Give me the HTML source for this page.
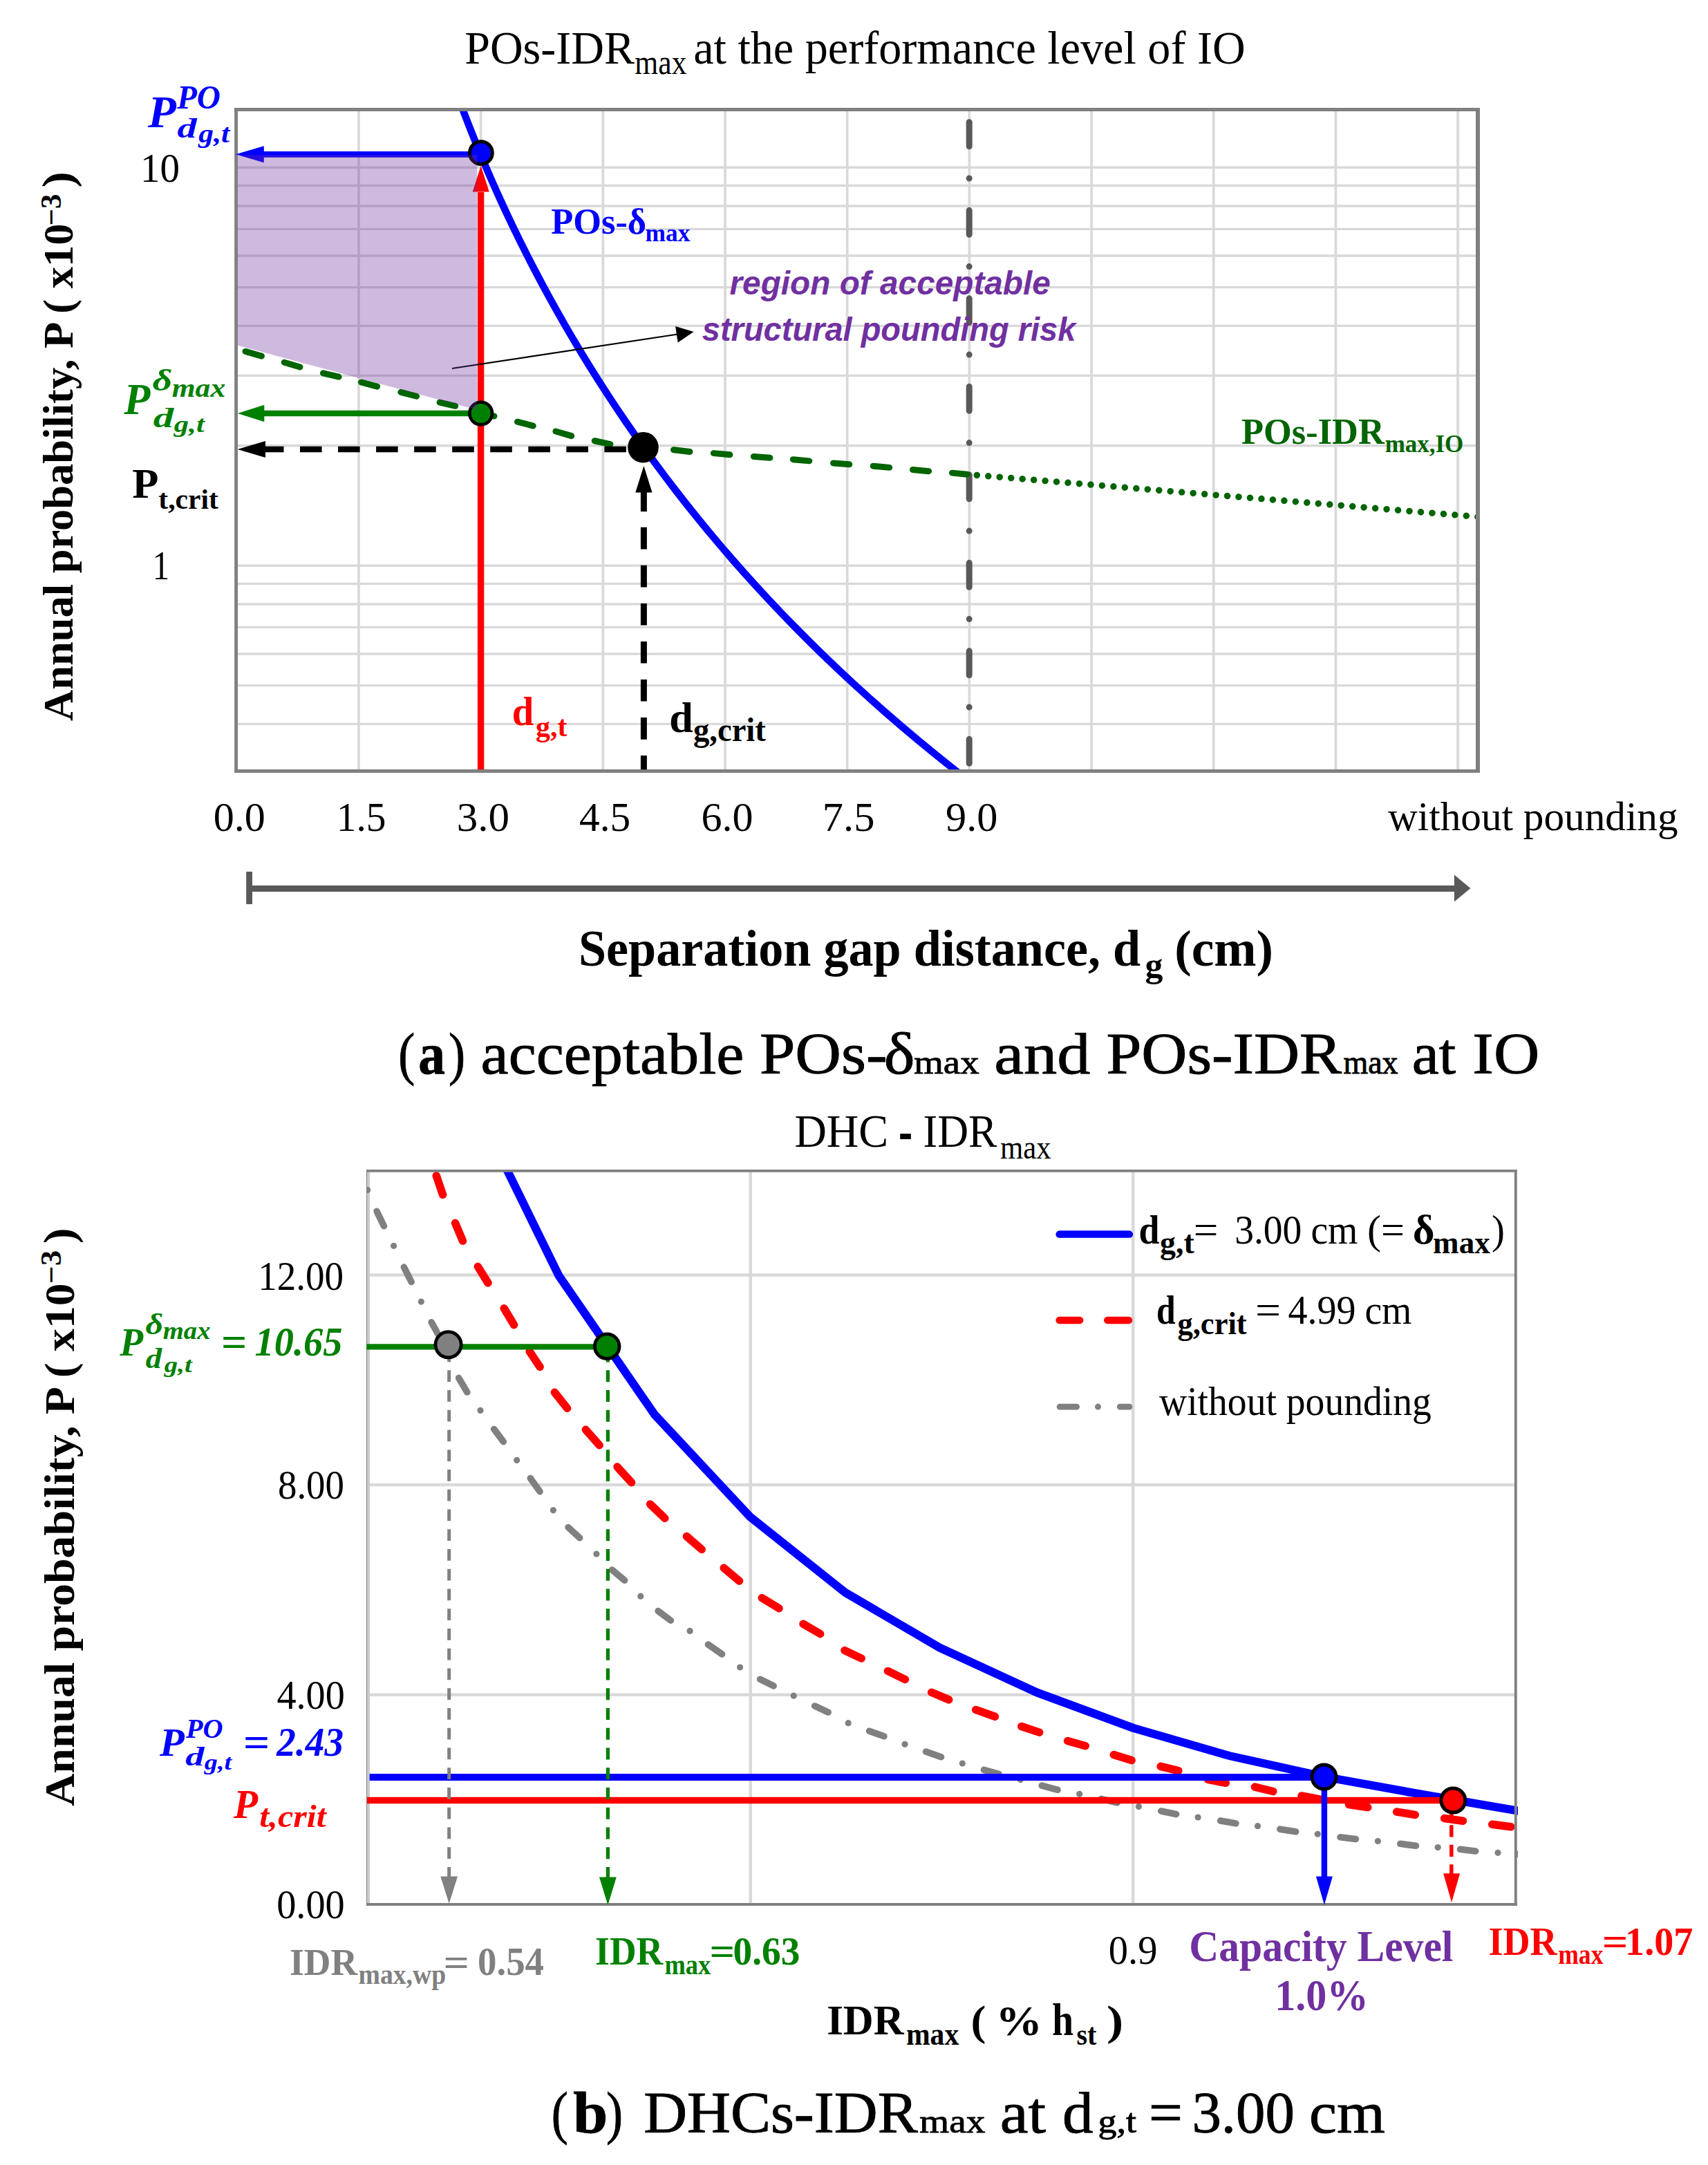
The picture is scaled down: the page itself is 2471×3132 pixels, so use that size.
<!DOCTYPE html>
<html lang="en"><head><meta charset="utf-8"><title>Figure: POs-IDRmax and DHC-IDRmax</title>
<style>html,body{margin:0;padding:0;background:#fff}svg{display:block}</style></head>
<body><svg width="2471" height="3132" viewBox="0 0 2471 3132">
<rect x="0" y="0" width="2471" height="3132" fill="#ffffff"/>
<g id="chart-a">
<line x1="518.98" y1="158.70" x2="518.98" y2="1115.80" stroke="#d9d9d9" stroke-width="3.7"/>
<line x1="695.66" y1="158.70" x2="695.66" y2="1115.80" stroke="#d9d9d9" stroke-width="3.7"/>
<line x1="872.34" y1="158.70" x2="872.34" y2="1115.80" stroke="#d9d9d9" stroke-width="3.7"/>
<line x1="1049.02" y1="158.70" x2="1049.02" y2="1115.80" stroke="#d9d9d9" stroke-width="3.7"/>
<line x1="1225.70" y1="158.70" x2="1225.70" y2="1115.80" stroke="#d9d9d9" stroke-width="3.7"/>
<line x1="1402.38" y1="158.70" x2="1402.38" y2="1115.80" stroke="#d9d9d9" stroke-width="3.7"/>
<line x1="1579.06" y1="158.70" x2="1579.06" y2="1115.80" stroke="#d9d9d9" stroke-width="3.7"/>
<line x1="1755.74" y1="158.70" x2="1755.74" y2="1115.80" stroke="#d9d9d9" stroke-width="3.7"/>
<line x1="1932.42" y1="158.70" x2="1932.42" y2="1115.80" stroke="#d9d9d9" stroke-width="3.7"/>
<line x1="2109.10" y1="158.70" x2="2109.10" y2="1115.80" stroke="#d9d9d9" stroke-width="3.7"/>
<line x1="341.50" y1="242.20" x2="2138.00" y2="242.20" stroke="#d9d9d9" stroke-width="3.4"/>
<line x1="341.50" y1="268.56" x2="2138.00" y2="268.56" stroke="#d9d9d9" stroke-width="3.4"/>
<line x1="341.50" y1="298.02" x2="2138.00" y2="298.02" stroke="#d9d9d9" stroke-width="3.4"/>
<line x1="341.50" y1="331.42" x2="2138.00" y2="331.42" stroke="#d9d9d9" stroke-width="3.4"/>
<line x1="341.50" y1="369.98" x2="2138.00" y2="369.98" stroke="#d9d9d9" stroke-width="3.4"/>
<line x1="341.50" y1="415.59" x2="2138.00" y2="415.59" stroke="#d9d9d9" stroke-width="3.4"/>
<line x1="341.50" y1="471.41" x2="2138.00" y2="471.41" stroke="#d9d9d9" stroke-width="3.4"/>
<line x1="341.50" y1="543.38" x2="2138.00" y2="543.38" stroke="#d9d9d9" stroke-width="3.4"/>
<line x1="341.50" y1="644.81" x2="2138.00" y2="644.81" stroke="#d9d9d9" stroke-width="3.4"/>
<line x1="341.50" y1="818.20" x2="2138.00" y2="818.20" stroke="#d9d9d9" stroke-width="3.4"/>
<line x1="341.50" y1="844.56" x2="2138.00" y2="844.56" stroke="#d9d9d9" stroke-width="3.4"/>
<line x1="341.50" y1="874.02" x2="2138.00" y2="874.02" stroke="#d9d9d9" stroke-width="3.4"/>
<line x1="341.50" y1="907.42" x2="2138.00" y2="907.42" stroke="#d9d9d9" stroke-width="3.4"/>
<line x1="341.50" y1="945.98" x2="2138.00" y2="945.98" stroke="#d9d9d9" stroke-width="3.4"/>
<line x1="341.50" y1="991.59" x2="2138.00" y2="991.59" stroke="#d9d9d9" stroke-width="3.4"/>
<line x1="341.50" y1="1047.41" x2="2138.00" y2="1047.41" stroke="#d9d9d9" stroke-width="3.4"/>
<path d="M1402.2,176.8V1113" fill="none" stroke="#595959" stroke-width="9" stroke-linecap="round" stroke-dasharray="35 46.25 0.01 46.25"/>
<clipPath id="clipA"><rect x="341.5" y="158.7" width="1796.5" height="957.0999999999999"/></clipPath>
<g clip-path="url(#clipA)">
<path d="M354.96,508.42L378.44,515.18M411.25,524.25L433.95,530.95M467.50,539.86L490.10,545.24M522.57,552.96L545.63,559.14M579.88,567.34L602.52,573.26M636.10,582.05L658.70,587.35M692.37,595.96L715.03,602.04M748.48,610.22L771.22,616.08M803.95,624.03L826.75,630.67M860.22,637.76L882.88,642.54M916.49,646.75L938.91,648.25M974.48,650.73L998.02,653.47M1032.38,655.63L1055.92,657.77M1090.39,660.49L1113.91,662.31M1147.28,664.73L1170.82,666.87M1205.59,669.99L1228.81,671.81M1263.18,674.23L1286.72,676.37M1320.48,679.54L1343.62,681.66M1377.48,684.14L1399.12,686.16" fill="none" stroke="#006400" stroke-width="9" stroke-linecap="round"/>
<path d="M1413.3,687.4L2140.8,747.85" fill="none" stroke="#006400" stroke-width="9.5" stroke-linecap="round" stroke-dasharray="0.01 16.513"/>
<path d="M666.35,150.00 C667.61,153.33 671.35,163.33 673.91,170.00 C676.47,176.67 679.07,183.33 681.71,190.00 C684.35,196.67 687.03,203.33 689.75,210.00 C692.47,216.67 695.23,223.33 698.03,230.00 C700.83,236.67 703.67,243.33 706.56,250.00 C709.44,256.67 712.36,263.33 715.33,270.00 C718.29,276.67 721.30,283.33 724.35,290.00 C727.39,296.67 730.48,303.33 733.61,310.00 C736.74,316.67 739.92,323.33 743.13,330.00 C746.35,336.67 749.61,343.33 752.91,350.00 C756.21,356.67 759.56,363.33 762.94,370.00 C766.33,376.67 769.77,383.33 773.24,390.00 C776.72,396.67 780.24,403.33 783.81,410.00 C787.37,416.67 790.98,423.33 794.64,430.00 C798.30,436.67 802.00,443.33 805.75,450.00 C809.50,456.67 813.30,463.33 817.14,470.00 C820.99,476.67 824.88,483.33 828.82,490.00 C832.76,496.67 836.75,503.33 840.79,510.00 C844.83,516.67 848.92,523.33 853.06,530.00 C857.20,536.67 861.39,543.33 865.63,550.00 C869.87,556.67 874.16,563.33 878.51,570.00 C882.85,576.67 887.25,583.33 891.71,590.00 C896.16,596.67 900.67,603.33 905.23,610.00 C909.79,616.67 914.41,623.33 919.08,630.00 C923.76,636.67 928.49,643.33 933.28,650.00 C938.07,656.67 942.91,663.33 947.82,670.00 C952.73,676.67 957.69,683.33 962.72,690.00 C967.75,696.67 972.83,703.33 977.99,710.00 C983.14,716.67 988.35,723.33 993.63,730.00 C998.90,736.67 1004.24,743.33 1009.65,750.00 C1015.06,756.67 1020.53,763.33 1026.07,770.00 C1031.61,776.67 1037.21,783.33 1042.89,790.00 C1048.57,796.67 1054.31,803.33 1060.13,810.00 C1065.94,816.67 1071.83,823.33 1077.79,830.00 C1083.75,836.67 1089.78,843.33 1095.89,850.00 C1101.99,856.67 1108.17,863.33 1114.43,870.00 C1120.69,876.67 1127.02,883.33 1133.44,890.00 C1139.85,896.67 1146.34,903.33 1152.92,910.00 C1159.49,916.67 1166.14,923.33 1172.88,930.00 C1179.61,936.67 1186.43,943.33 1193.34,950.00 C1200.24,956.67 1207.23,963.33 1214.30,970.00 C1221.38,976.67 1228.54,983.33 1235.80,990.00 C1243.05,996.67 1250.39,1003.33 1257.82,1010.00 C1265.26,1016.67 1272.78,1023.33 1280.40,1030.00 C1288.02,1036.67 1295.74,1043.33 1303.55,1050.00 C1311.36,1056.67 1319.26,1063.33 1327.27,1070.00 C1335.28,1076.67 1343.38,1083.33 1351.59,1090.00 C1359.80,1096.67 1368.10,1103.33 1376.52,1110.00 C1384.93,1116.67 1397.81,1126.67 1402.07,1130.00" fill="none" stroke="#0000ff" stroke-width="10.4"/>
</g>
<line x1="341.60" y1="156.05" x2="341.60" y2="1118.00" stroke="#808080" stroke-width="4.9"/>
<line x1="2138.00" y1="156.05" x2="2138.00" y2="1118.00" stroke="#808080" stroke-width="6"/>
<line x1="339.15" y1="158.50" x2="2141.00" y2="158.50" stroke="#808080" stroke-width="4.9"/>
<line x1="339.15" y1="1115.55" x2="2141.00" y2="1115.55" stroke="#808080" stroke-width="4.9"/>
<line x1="695.60" y1="1113.30" x2="695.60" y2="278.00" stroke="#ff0000" stroke-width="9.4"/>
<polygon points="695.70,240.00 683.65,277.60 707.75,277.60" fill="#ff0000"/>
<line x1="696.00" y1="223.40" x2="381.00" y2="223.40" stroke="#0000ff" stroke-width="8.8"/>
<polygon points="340.90,223.20 381.80,211.20 381.80,235.20" fill="#0000ff"/>
<line x1="696.00" y1="598.00" x2="381.50" y2="598.00" stroke="#008000" stroke-width="8.6"/>
<polygon points="343.70,598.00 382.30,585.70 382.30,610.30" fill="#008000"/>
<path d="M383.00,650.00L410.50,650.00M434.00,650.00L465.60,650.00M489.05,650.00L520.65,650.00M544.10,650.00L575.70,650.00M599.15,650.00L630.75,650.00M654.20,650.00L685.80,650.00M709.25,650.00L740.85,650.00M764.30,650.00L795.90,650.00M819.35,650.00L850.95,650.00M874.40,650.00L906.00,650.00" fill="none" stroke="#000" stroke-width="8.7" stroke-linecap="butt"/>
<polygon points="343.70,650.00 384.00,638.00 384.00,662.00" fill="#000"/>
<path d="M931.40,712.00L931.40,740.00M931.40,762.80L931.40,794.40M931.40,817.85L931.40,849.45M931.40,872.90L931.40,904.50M931.40,927.95L931.40,959.55M931.40,983.00L931.40,1014.60M931.40,1038.05L931.40,1069.65M931.40,1093.10L931.40,1113.30" fill="none" stroke="#000" stroke-width="9" stroke-linecap="butt"/>
<polygon points="931.40,673.90 919.30,712.50 943.50,712.50" fill="#000"/>
<line x1="654.00" y1="533.00" x2="983.83" y2="483.00" stroke="#000" stroke-width="2.2"/>
<polygon points="1003.60,480.00 980.65,495.41 977.11,472.08" fill="#000"/>
<circle cx="695.90" cy="221.20" r="16.45" fill="#0000ff" stroke="#000" stroke-width="4.9"/>
<circle cx="695.70" cy="598.00" r="16.30" fill="#008000" stroke="#000" stroke-width="4.6"/>
<circle cx="930.50" cy="647.20" r="22.30" fill="#000"/>
<polygon points="344.00,224.20 690.20,224.20 690.20,593.00 344.00,499.70" fill="#7030a0" fill-opacity="0.335"/>
<line x1="360.60" y1="1261.00" x2="360.60" y2="1308.00" stroke="#595959" stroke-width="8.8"/>
<line x1="360.60" y1="1285.50" x2="2106.00" y2="1285.50" stroke="#595959" stroke-width="9.2"/>
<polygon points="2127.40,1285.00 2103.90,1265.60 2103.90,1304.40" fill="#595959"/>
</g>
<g id="text-a">
<text x="672.15" y="91.50" font-family='"Liberation Serif", serif' font-size="67" font-weight="normal" font-style="normal" fill="#000" textLength="245.96" lengthAdjust="spacingAndGlyphs">POs-IDR</text>
<text x="918.33" y="106.60" font-family='"Liberation Serif", serif' font-size="50" font-weight="normal" font-style="normal" fill="#000" textLength="75.27" lengthAdjust="spacingAndGlyphs">max</text>
<text x="1003.18" y="91.50" font-family='"Liberation Serif", serif' font-size="67" font-weight="normal" font-style="normal" fill="#000" textLength="798.58" lengthAdjust="spacingAndGlyphs">at the performance level of IO</text>
<text transform="translate(105.40,1042.50) rotate(-90)" x="-0.50" y="0" font-family='"Liberation Serif", serif' font-size="62" font-weight="bold" font-style="normal" fill="#000" textLength="719.48" lengthAdjust="spacingAndGlyphs">Annual probability, P ( x10</text>
<text transform="translate(87.90,324.10) rotate(-90)" x="-2.22" y="0" font-family='"Liberation Serif", serif' font-size="42" font-weight="bold" font-style="normal" fill="#000" textLength="45.77" lengthAdjust="spacingAndGlyphs">−3</text>
<text transform="translate(105.40,269.30) rotate(-90)" x="-2.24" y="0" font-family='"Liberation Serif", serif' font-size="64" font-weight="bold" font-style="normal" fill="#000" textLength="23.31" lengthAdjust="spacingAndGlyphs">)</text>
<text x="202.98" y="263.30" font-family='"Liberation Serif", serif' font-size="59" font-weight="normal" font-style="normal" fill="#000" textLength="57.08" lengthAdjust="spacingAndGlyphs">10</text>
<text x="220.62" y="838.20" font-family='"Liberation Serif", serif' font-size="59" font-weight="normal" font-style="normal" fill="#000" textLength="24.86" lengthAdjust="spacingAndGlyphs">1</text>
<text x="308.73" y="1202.30" font-family='"Liberation Serif", serif' font-size="60" font-weight="normal" font-style="normal" fill="#000" textLength="75.21" lengthAdjust="spacingAndGlyphs">0.0</text>
<text x="486.75" y="1202.30" font-family='"Liberation Serif", serif' font-size="60" font-weight="normal" font-style="normal" fill="#000" textLength="71.70" lengthAdjust="spacingAndGlyphs">1.5</text>
<text x="660.67" y="1202.30" font-family='"Liberation Serif", serif' font-size="60" font-weight="normal" font-style="normal" fill="#000" textLength="76.31" lengthAdjust="spacingAndGlyphs">3.0</text>
<text x="838.01" y="1202.30" font-family='"Liberation Serif", serif' font-size="60" font-weight="normal" font-style="normal" fill="#000" textLength="74.21" lengthAdjust="spacingAndGlyphs">4.5</text>
<text x="1014.60" y="1202.30" font-family='"Liberation Serif", serif' font-size="60" font-weight="normal" font-style="normal" fill="#000" textLength="75.04" lengthAdjust="spacingAndGlyphs">6.0</text>
<text x="1189.83" y="1202.30" font-family='"Liberation Serif", serif' font-size="60" font-weight="normal" font-style="normal" fill="#000" textLength="75.52" lengthAdjust="spacingAndGlyphs">7.5</text>
<text x="1368.07" y="1202.30" font-family='"Liberation Serif", serif' font-size="60" font-weight="normal" font-style="normal" fill="#000" textLength="75.38" lengthAdjust="spacingAndGlyphs">9.0</text>
<text x="2008.00" y="1201.30" font-family='"Liberation Serif", serif' font-size="60" font-weight="normal" font-style="normal" fill="#000" textLength="419.61" lengthAdjust="spacingAndGlyphs">without pounding</text>
<text x="214.00" y="184.00" font-family='"Liberation Serif", serif' font-size="65" font-weight="bold" font-style="italic" fill="#0000ff" textLength="40.89" lengthAdjust="spacingAndGlyphs">P</text>
<text x="256.00" y="157.00" font-family='"Liberation Serif", serif' font-size="48" font-weight="bold" font-style="italic" fill="#0000ff" textLength="62.88" lengthAdjust="spacingAndGlyphs">PO</text>
<text x="256.63" y="199.00" font-family='"Liberation Serif", serif' font-size="39" font-weight="bold" font-style="italic" fill="#0000ff" textLength="28.10" lengthAdjust="spacingAndGlyphs">d</text>
<text x="287.37" y="206.00" font-family='"Liberation Serif", serif' font-size="37" font-weight="bold" font-style="italic" fill="#0000ff" textLength="44.90" lengthAdjust="spacingAndGlyphs">g,t</text>
<text x="179.30" y="598.80" font-family='"Liberation Serif", serif' font-size="64" font-weight="bold" font-style="italic" fill="#008000" textLength="38.13" lengthAdjust="spacingAndGlyphs">P</text>
<text x="220.60" y="565.40" font-family='"Liberation Serif", serif' font-size="45" font-weight="bold" font-style="italic" fill="#008000" textLength="28.78" lengthAdjust="spacingAndGlyphs">δ</text>
<text x="248.73" y="574.20" font-family='"Liberation Serif", serif' font-size="38" font-weight="bold" font-style="italic" fill="#008000" textLength="77.50" lengthAdjust="spacingAndGlyphs">max</text>
<text x="221.79" y="618.10" font-family='"Liberation Serif", serif' font-size="39" font-weight="bold" font-style="italic" fill="#008000" textLength="29.50" lengthAdjust="spacingAndGlyphs">d</text>
<text x="251.86" y="625.10" font-family='"Liberation Serif", serif' font-size="34" font-weight="bold" font-style="italic" fill="#008000" textLength="43.94" lengthAdjust="spacingAndGlyphs">g,t</text>
<text x="191.30" y="720.00" font-family='"Liberation Serif", serif' font-size="61" font-weight="bold" font-style="normal" fill="#000" textLength="38.18" lengthAdjust="spacingAndGlyphs">P</text>
<text x="229.34" y="735.80" font-family='"Liberation Serif", serif' font-size="40" font-weight="bold" font-style="normal" fill="#000" textLength="86.50" lengthAdjust="spacingAndGlyphs">t,crit</text>
<text x="797.16" y="337.80" font-family='"Liberation Serif", serif' font-size="53.6" font-weight="bold" font-style="normal" fill="#0000ff" textLength="137.92" lengthAdjust="spacingAndGlyphs">POs-δ</text>
<text x="933.55" y="349.00" font-family='"Liberation Serif", serif' font-size="36" font-weight="bold" font-style="normal" fill="#0000ff" textLength="64.93" lengthAdjust="spacingAndGlyphs">max</text>
<text x="1055.54" y="426.30" font-family='"Liberation Sans", sans-serif' font-size="47.5" font-weight="bold" font-style="italic" fill="#7030a0" textLength="464.31" lengthAdjust="spacingAndGlyphs">region of acceptable</text>
<text x="1015.84" y="493.00" font-family='"Liberation Sans", sans-serif' font-size="47.5" font-weight="bold" font-style="italic" fill="#7030a0" textLength="540.51" lengthAdjust="spacingAndGlyphs">structural pounding risk</text>
<text x="1796.06" y="641.70" font-family='"Liberation Serif", serif' font-size="52" font-weight="bold" font-style="normal" fill="#006400" textLength="206.73" lengthAdjust="spacingAndGlyphs">POs-IDR</text>
<text x="2003.66" y="653.80" font-family='"Liberation Serif", serif' font-size="36" font-weight="bold" font-style="normal" fill="#006400" textLength="113.65" lengthAdjust="spacingAndGlyphs">max,IO</text>
<text x="740.73" y="1049.20" font-family='"Liberation Serif", serif' font-size="60" font-weight="bold" font-style="normal" fill="#ff0000" textLength="31.53" lengthAdjust="spacingAndGlyphs">d</text>
<text x="774.99" y="1065.00" font-family='"Liberation Serif", serif' font-size="42" font-weight="bold" font-style="normal" fill="#ff0000" textLength="45.43" lengthAdjust="spacingAndGlyphs">g,t</text>
<text x="968.21" y="1059.40" font-family='"Liberation Serif", serif' font-size="61" font-weight="bold" font-style="normal" fill="#000" textLength="34.59" lengthAdjust="spacingAndGlyphs">d</text>
<text x="1002.88" y="1072.40" font-family='"Liberation Serif", serif' font-size="48" font-weight="bold" font-style="normal" fill="#000" textLength="105.03" lengthAdjust="spacingAndGlyphs">g,crit</text>
<text x="836.95" y="1397.30" font-family='"Liberation Serif", serif' font-size="74" font-weight="bold" font-style="normal" fill="#000" textLength="813.17" lengthAdjust="spacingAndGlyphs">Separation gap distance, d</text>
<text x="1656.46" y="1413.00" font-family='"Liberation Serif", serif' font-size="50" font-weight="bold" font-style="normal" fill="#000" textLength="25.85" lengthAdjust="spacingAndGlyphs">g</text>
<text x="1699.16" y="1397.30" font-family='"Liberation Serif", serif' font-size="74" font-weight="bold" font-style="normal" fill="#000" textLength="142.89" lengthAdjust="spacingAndGlyphs">(cm)</text>
<text x="576.13" y="1552.50" font-family='"Liberation Serif", serif' font-size="85" font-weight="normal" font-style="normal" fill="#000" textLength="24.06" lengthAdjust="spacingAndGlyphs" stroke="#000" stroke-width="0.9">(</text>
<text x="605.32" y="1552.50" font-family='"Liberation Serif", serif' font-size="85" font-weight="bold" font-style="normal" fill="#000" textLength="38.71" lengthAdjust="spacingAndGlyphs" stroke="#000" stroke-width="0.9">a</text>
<text x="649.05" y="1552.50" font-family='"Liberation Serif", serif' font-size="85" font-weight="normal" font-style="normal" fill="#000" textLength="24.06" lengthAdjust="spacingAndGlyphs" stroke="#000" stroke-width="0.9">)</text>
<text x="695.61" y="1552.50" font-family='"Liberation Serif", serif' font-size="85" font-weight="normal" font-style="normal" fill="#000" textLength="380.77" lengthAdjust="spacingAndGlyphs" stroke="#000" stroke-width="0.9">acceptable</text>
<text x="1098.91" y="1552.50" font-family='"Liberation Serif", serif' font-size="85" font-weight="normal" font-style="normal" fill="#000" textLength="184.89" lengthAdjust="spacingAndGlyphs" stroke="#000" stroke-width="0.9">POs-</text>
<text x="1278.88" y="1552.50" font-family='"Liberation Serif", serif' font-size="85" font-weight="normal" font-style="normal" fill="#000" textLength="44.76" lengthAdjust="spacingAndGlyphs" stroke="#000" stroke-width="0.9">δ</text>
<text x="1322.31" y="1552.50" font-family='"Liberation Serif", serif' font-size="49" font-weight="normal" font-style="normal" fill="#000" textLength="94.24" lengthAdjust="spacingAndGlyphs" stroke="#000" stroke-width="0.9">max</text>
<text x="1438.31" y="1552.50" font-family='"Liberation Serif", serif' font-size="85" font-weight="normal" font-style="normal" fill="#000" textLength="139.23" lengthAdjust="spacingAndGlyphs" stroke="#000" stroke-width="0.9">and</text>
<text x="1600.44" y="1552.50" font-family='"Liberation Serif", serif' font-size="85" font-weight="normal" font-style="normal" fill="#000" textLength="340.74" lengthAdjust="spacingAndGlyphs" stroke="#000" stroke-width="0.9">POs-IDR</text>
<text x="1943.48" y="1552.50" font-family='"Liberation Serif", serif' font-size="49" font-weight="normal" font-style="normal" fill="#000" textLength="79.15" lengthAdjust="spacingAndGlyphs" stroke="#000" stroke-width="0.9">max</text>
<text x="2042.78" y="1552.50" font-family='"Liberation Serif", serif' font-size="85" font-weight="normal" font-style="normal" fill="#000" textLength="63.52" lengthAdjust="spacingAndGlyphs" stroke="#000" stroke-width="0.9">at</text>
<text x="2130.39" y="1552.50" font-family='"Liberation Serif", serif' font-size="85" font-weight="normal" font-style="normal" fill="#000" textLength="96.90" lengthAdjust="spacingAndGlyphs" stroke="#000" stroke-width="0.9">IO</text>
</g>
<g id="chart-b">
<line x1="1085.80" y1="1694.00" x2="1085.80" y2="2755.00" stroke="#d9d9d9" stroke-width="4.5"/>
<line x1="1639.20" y1="1694.00" x2="1639.20" y2="2755.00" stroke="#d9d9d9" stroke-width="4.5"/>
<line x1="532.50" y1="1844.50" x2="2193.00" y2="1844.50" stroke="#d9d9d9" stroke-width="4.4"/>
<line x1="532.50" y1="2148.00" x2="2193.00" y2="2148.00" stroke="#d9d9d9" stroke-width="4.4"/>
<line x1="532.50" y1="2451.70" x2="2193.00" y2="2451.70" stroke="#d9d9d9" stroke-width="4.4"/>
<line x1="533.00" y1="1695.70" x2="533.00" y2="2757.10" stroke="#cbcbcb" stroke-width="4"/>
<line x1="530.55" y1="1692.20" x2="530.55" y2="2757.10" stroke="#808080" stroke-width="1"/>
<clipPath id="clipB"><rect x="530.0" y="1694.0" width="1666.0" height="1061.0"/></clipPath>
<g clip-path="url(#clipB)">
<path d="M545.09,1752.32L555.41,1773.58M584.41,1833.11L595.09,1854.39M624.17,1912.77L633.73,1930.03M663.62,1993.35L675.78,2013.95M714.68,2067.44L728.32,2085.66M767.34,2138.47L781.06,2157.73M822.03,2209.51L838.67,2224.69M885.38,2270.96L903.62,2286.24M952.14,2330.58L970.36,2344.22M1024.48,2379.03L1044.52,2392.97M1099.62,2429.29L1119.18,2438.91M1178.63,2467.96L1198.17,2477.04M1257.69,2504.21L1278.91,2511.79M1339.60,2534.09L1361.50,2541.71M1423.53,2560.29L1445.07,2566.41M1507.24,2583.16L1530.06,2589.24M1593.25,2602.42L1616.15,2607.88M1679.76,2619.96L1701.54,2624.44M1765.77,2633.92L1787.93,2637.88M1851.88,2646.18L1874.62,2649.82M1938.99,2657.72L1961.41,2660.48M2025.78,2667.24L2048.52,2670.26M2112.49,2675.32L2134.61,2677.98M2196.19,2682.27L2213.21,2683.83" fill="none" stroke="#808080" stroke-width="9.6" stroke-linecap="round"/>
<circle cx="531.60" cy="1721.50" r="4.60" fill="#808080"/>
<circle cx="569.60" cy="1802.30" r="4.60" fill="#808080"/>
<circle cx="609.30" cy="1883.10" r="4.60" fill="#808080"/>
<circle cx="648.50" cy="1961.00" r="4.60" fill="#808080"/>
<circle cx="695.00" cy="2040.40" r="4.60" fill="#808080"/>
<circle cx="747.70" cy="2112.40" r="4.60" fill="#808080"/>
<circle cx="800.40" cy="2184.80" r="4.60" fill="#808080"/>
<circle cx="862.90" cy="2248.00" r="4.60" fill="#808080"/>
<circle cx="926.80" cy="2309.20" r="4.60" fill="#808080"/>
<circle cx="998.10" cy="2359.40" r="4.60" fill="#808080"/>
<circle cx="1070.60" cy="2412.00" r="4.60" fill="#808080"/>
<circle cx="1148.20" cy="2453.20" r="4.60" fill="#808080"/>
<circle cx="1227.20" cy="2492.70" r="4.60" fill="#808080"/>
<circle cx="1309.10" cy="2523.30" r="4.60" fill="#808080"/>
<circle cx="1392.30" cy="2551.10" r="4.60" fill="#808080"/>
<circle cx="1476.30" cy="2574.60" r="4.60" fill="#808080"/>
<circle cx="1561.70" cy="2595.30" r="4.60" fill="#808080"/>
<circle cx="1647.40" cy="2613.60" r="4.60" fill="#808080"/>
<circle cx="1733.10" cy="2629.00" r="4.60" fill="#808080"/>
<circle cx="1819.50" cy="2641.70" r="4.60" fill="#808080"/>
<circle cx="1906.30" cy="2653.30" r="4.60" fill="#808080"/>
<circle cx="1993.40" cy="2663.50" r="4.60" fill="#808080"/>
<circle cx="2080.20" cy="2672.60" r="4.60" fill="#808080"/>
<circle cx="2167.00" cy="2680.30" r="4.60" fill="#808080"/>
<path d="M631.28,1700.89L640.62,1728.41M658.58,1769.31L669.52,1795.29M691.31,1832.29L705.99,1855.91M729.27,1892.72L743.63,1916.68M766.20,1955.23L781.10,1977.47M802.39,2014.19L820.61,2037.31M847.32,2068.29L867.18,2090.81M893.05,2122.06L913.55,2144.64M940.60,2176.01L961.80,2196.39M993.40,2222.60L1015.20,2241.50M1047.23,2268.27L1069.57,2287.13M1102.31,2311.69L1126.99,2326.71M1162.03,2349.24L1186.67,2363.66M1221.96,2387.60L1246.24,2399.10M1284.44,2417.43L1309.46,2429.57M1347.71,2448.29L1372.69,2458.91M1411.67,2473.42L1439.33,2483.28M1477.79,2497.56L1503.61,2506.14M1544.54,2518.52L1570.26,2525.68M1611.31,2538.60L1637.09,2546.60M1679.16,2555.32L1704.84,2561.58M1747.70,2574.47L1773.30,2579.33M1815.46,2585.12L1841.84,2591.48M1883.00,2597.97L1910.30,2603.13M1951.42,2610.54L1978.78,2614.56M2020.61,2621.09L2047.29,2625.41M2089.52,2630.52L2116.48,2634.28M2158.73,2639.28L2186.07,2642.72" fill="none" stroke="#ff0000" stroke-width="11.5" stroke-linecap="round"/>
<polyline points="727,1679.2 733.6,1692.7 808.5,1845.5 947.2,2046.7 1085.7,2194.8 1222.7,2303.7 1359.7,2383.8 1500.2,2448.5 1640,2500 1778.5,2540 1915.8,2570.4 2055,2595.5 2196,2619.6 2210,2622" fill="none" stroke="#0000ff" stroke-width="12" stroke-linejoin="round"/>
</g>
<line x1="530.05" y1="1693.90" x2="2194.80" y2="1693.90" stroke="#808080" stroke-width="3.6"/>
<line x1="2192.80" y1="1694.00" x2="2192.80" y2="2757.10" stroke="#808080" stroke-width="3.9"/>
<line x1="530.00" y1="2755.00" x2="2194.80" y2="2755.00" stroke="#808080" stroke-width="4.2"/>
<line x1="534.70" y1="2571.00" x2="1916.00" y2="2571.00" stroke="#0000ff" stroke-width="10"/>
<line x1="531.00" y1="2604.50" x2="2102.00" y2="2604.50" stroke="#ff0000" stroke-width="9.3"/>
<line x1="530.30" y1="1948.40" x2="878.00" y2="1948.40" stroke="#008000" stroke-width="8.4"/>
<path d="M649.7,1953.45V2715" fill="none" stroke="#808080" stroke-width="5" stroke-dasharray="16.7 12.05"/>
<polygon points="649.70,2753.80 637.30,2714.50 662.10,2714.50" fill="#808080"/>
<path d="M879.4,1953.45V2716" fill="none" stroke="#008000" stroke-width="5.2" stroke-dasharray="17.1 11.65"/>
<polygon points="879.40,2756.00 867.00,2715.50 891.80,2715.50" fill="#008000"/>
<line x1="1915.90" y1="2571.00" x2="1915.90" y2="2715.00" stroke="#0000ff" stroke-width="8.4"/>
<polygon points="1915.90,2755.70 1903.90,2714.40 1927.90,2714.40" fill="#0000ff"/>
<path d="M2099.8,2611.7V2711" fill="none" stroke="#ff0000" stroke-width="5.5" stroke-dasharray="17.3 11.2"/>
<polygon points="2100.10,2751.90 2088.10,2710.30 2112.10,2710.30" fill="#ff0000"/>
<circle cx="648.60" cy="1945.30" r="18.60" fill="#808080" stroke="#000" stroke-width="4.8"/>
<circle cx="878.20" cy="1947.70" r="17.80" fill="#008000" stroke="#000" stroke-width="4.8"/>
<circle cx="1915.50" cy="2570.60" r="17.50" fill="#0000ff" stroke="#000" stroke-width="5"/>
<circle cx="2102.30" cy="2604.50" r="17.50" fill="#ff0000" stroke="#000" stroke-width="5"/>
<path d="M1532.65,1785.60L1633.85,1785.60" fill="none" stroke="#0000ff" stroke-width="10.5" stroke-linecap="round"/>
<path d="M1532.65,1909.90L1562.15,1909.90M1602.25,1909.90L1633.05,1909.90" fill="none" stroke="#ff0000" stroke-width="10.5" stroke-linecap="round"/>
<path d="M1533.00,2035.10L1557.70,2035.10M1620.20,2035.10L1634.00,2035.10" fill="none" stroke="#808080" stroke-width="8.6" stroke-linecap="round"/>
<circle cx="1588.50" cy="2035.10" r="4.50" fill="#808080"/>
</g>
<g id="text-b">
<text x="1149.40" y="1659.10" font-family='"Liberation Serif", serif' font-size="67" font-weight="normal" font-style="normal" fill="#000" textLength="135.66" lengthAdjust="spacingAndGlyphs">DHC</text>
<text x="1299.77" y="1660.50" font-family='"Liberation Sans", sans-serif' font-size="67" font-weight="bold" font-style="normal" fill="#000" textLength="20.62" lengthAdjust="spacingAndGlyphs">-</text>
<text x="1335.46" y="1659.10" font-family='"Liberation Serif", serif' font-size="67" font-weight="normal" font-style="normal" fill="#000" textLength="106.92" lengthAdjust="spacingAndGlyphs">IDR</text>
<text x="1446.94" y="1675.50" font-family='"Liberation Serif", serif' font-size="48" font-weight="normal" font-style="normal" fill="#000" textLength="73.74" lengthAdjust="spacingAndGlyphs">max</text>
<text transform="translate(107.30,2612.60) rotate(-90)" x="-0.53" y="0" font-family='"Liberation Serif", serif' font-size="62" font-weight="bold" font-style="normal" fill="#000" textLength="756.82" lengthAdjust="spacingAndGlyphs">Annual probability, P ( x10</text>
<text transform="translate(87.90,1854.70) rotate(-90)" x="-2.35" y="0" font-family='"Liberation Serif", serif' font-size="42" font-weight="bold" font-style="normal" fill="#000" textLength="48.38" lengthAdjust="spacingAndGlyphs">−3</text>
<text transform="translate(107.30,1797.00) rotate(-90)" x="-2.20" y="0" font-family='"Liberation Serif", serif' font-size="64" font-weight="bold" font-style="normal" fill="#000" textLength="22.93" lengthAdjust="spacingAndGlyphs">)</text>
<text x="373.15" y="1866.00" font-family='"Liberation Serif", serif' font-size="60" font-weight="normal" font-style="normal" fill="#000" textLength="124.02" lengthAdjust="spacingAndGlyphs">12.00</text>
<text x="401.92" y="2168.20" font-family='"Liberation Serif", serif' font-size="60" font-weight="normal" font-style="normal" fill="#000" textLength="96.15" lengthAdjust="spacingAndGlyphs">8.00</text>
<text x="400.38" y="2471.90" font-family='"Liberation Serif", serif' font-size="60" font-weight="normal" font-style="normal" fill="#000" textLength="98.44" lengthAdjust="spacingAndGlyphs">4.00</text>
<text x="400.17" y="2775.00" font-family='"Liberation Serif", serif' font-size="60" font-weight="normal" font-style="normal" fill="#000" textLength="98.65" lengthAdjust="spacingAndGlyphs">0.00</text>
<text x="173.20" y="1960.70" font-family='"Liberation Serif", serif' font-size="58" font-weight="bold" font-style="italic" fill="#008000" textLength="33.89" lengthAdjust="spacingAndGlyphs">P</text>
<text x="210.50" y="1930.00" font-family='"Liberation Serif", serif' font-size="42" font-weight="bold" font-style="italic" fill="#008000" textLength="25.61" lengthAdjust="spacingAndGlyphs">δ</text>
<text x="235.73" y="1937.40" font-family='"Liberation Serif", serif' font-size="36" font-weight="bold" font-style="italic" fill="#008000" textLength="68.77" lengthAdjust="spacingAndGlyphs">max</text>
<text x="210.74" y="1979.20" font-family='"Liberation Serif", serif' font-size="43" font-weight="bold" font-style="italic" fill="#008000" textLength="23.40" lengthAdjust="spacingAndGlyphs">d</text>
<text x="237.88" y="1985.30" font-family='"Liberation Serif", serif' font-size="32" font-weight="bold" font-style="italic" fill="#008000" textLength="39.93" lengthAdjust="spacingAndGlyphs">g,t</text>
<text x="319.53" y="1960.70" font-family='"Liberation Serif", serif' font-size="60" font-weight="bold" font-style="italic" fill="#008000" textLength="37.38" lengthAdjust="spacingAndGlyphs">=</text>
<text x="368.55" y="1960.70" font-family='"Liberation Serif", serif' font-size="60" font-weight="bold" font-style="italic" fill="#008000" textLength="126.79" lengthAdjust="spacingAndGlyphs">10.65</text>
<text x="230.90" y="2539.80" font-family='"Liberation Serif", serif' font-size="58" font-weight="bold" font-style="italic" fill="#0000ff" textLength="35.76" lengthAdjust="spacingAndGlyphs">P</text>
<text x="269.00" y="2514.30" font-family='"Liberation Serif", serif' font-size="41" font-weight="bold" font-style="italic" fill="#0000ff" textLength="53.61" lengthAdjust="spacingAndGlyphs">PO</text>
<text x="268.35" y="2554.30" font-family='"Liberation Serif", serif' font-size="38" font-weight="bold" font-style="italic" fill="#0000ff" textLength="27.20" lengthAdjust="spacingAndGlyphs">d</text>
<text x="295.86" y="2559.70" font-family='"Liberation Serif", serif' font-size="32" font-weight="bold" font-style="italic" fill="#0000ff" textLength="39.16" lengthAdjust="spacingAndGlyphs">g,t</text>
<text x="351.63" y="2539.80" font-family='"Liberation Serif", serif' font-size="60" font-weight="bold" font-style="italic" fill="#0000ff" textLength="38.35" lengthAdjust="spacingAndGlyphs">=</text>
<text x="400.36" y="2539.80" font-family='"Liberation Serif", serif' font-size="60" font-weight="bold" font-style="italic" fill="#0000ff" textLength="96.65" lengthAdjust="spacingAndGlyphs">2.43</text>
<text x="337.90" y="2629.80" font-family='"Liberation Serif", serif' font-size="59" font-weight="bold" font-style="italic" fill="#ff0000" textLength="35.07" lengthAdjust="spacingAndGlyphs">P</text>
<text x="375.39" y="2642.50" font-family='"Liberation Serif", serif' font-size="47" font-weight="bold" font-style="italic" fill="#ff0000" textLength="96.23" lengthAdjust="spacingAndGlyphs">t,crit</text>
<text x="418.99" y="2857.40" font-family='"Liberation Serif", serif' font-size="55" font-weight="bold" font-style="normal" fill="#808080" textLength="98.05" lengthAdjust="spacingAndGlyphs">IDR</text>
<text x="518.50" y="2870.10" font-family='"Liberation Serif", serif' font-size="40" font-weight="bold" font-style="normal" fill="#808080" textLength="126.66" lengthAdjust="spacingAndGlyphs">max,wp</text>
<text x="641.54" y="2857.40" font-family='"Liberation Serif", serif' font-size="55" font-weight="bold" font-style="normal" fill="#808080" textLength="37.50" lengthAdjust="spacingAndGlyphs">=</text>
<text x="691.02" y="2857.40" font-family='"Liberation Serif", serif' font-size="57" font-weight="bold" font-style="normal" fill="#808080" textLength="96.04" lengthAdjust="spacingAndGlyphs">0.54</text>
<text x="861.09" y="2842.30" font-family='"Liberation Serif", serif' font-size="57" font-weight="bold" font-style="normal" fill="#008000" textLength="98.15" lengthAdjust="spacingAndGlyphs">IDR</text>
<text x="961.43" y="2856.10" font-family='"Liberation Serif", serif' font-size="40" font-weight="bold" font-style="normal" fill="#008000" textLength="66.76" lengthAdjust="spacingAndGlyphs">max</text>
<text x="1026.41" y="2842.30" font-family='"Liberation Serif", serif' font-size="57" font-weight="bold" font-style="normal" fill="#008000" textLength="36.65" lengthAdjust="spacingAndGlyphs">=</text>
<text x="1060.51" y="2842.30" font-family='"Liberation Serif", serif' font-size="57" font-weight="bold" font-style="normal" fill="#008000" textLength="96.96" lengthAdjust="spacingAndGlyphs">0.63</text>
<text x="1603.76" y="2840.90" font-family='"Liberation Serif", serif' font-size="59" font-weight="normal" font-style="normal" fill="#000" textLength="70.68" lengthAdjust="spacingAndGlyphs">0.9</text>
<text x="1720.24" y="2836.50" font-family='"Liberation Serif", serif' font-size="63" font-weight="bold" font-style="normal" fill="#7030a0" textLength="382.19" lengthAdjust="spacingAndGlyphs">Capacity Level</text>
<text x="1844.18" y="2907.50" font-family='"Liberation Serif", serif' font-size="63" font-weight="bold" font-style="normal" fill="#7030a0" textLength="135.54" lengthAdjust="spacingAndGlyphs">1.0%</text>
<text x="2153.47" y="2827.80" font-family='"Liberation Serif", serif' font-size="56" font-weight="bold" font-style="normal" fill="#ff0000" textLength="99.17" lengthAdjust="spacingAndGlyphs">IDR</text>
<text x="2254.14" y="2840.80" font-family='"Liberation Serif", serif' font-size="40" font-weight="bold" font-style="normal" fill="#ff0000" textLength="65.33" lengthAdjust="spacingAndGlyphs">max</text>
<text x="2317.82" y="2827.80" font-family='"Liberation Serif", serif' font-size="56" font-weight="bold" font-style="normal" fill="#ff0000" textLength="37.74" lengthAdjust="spacingAndGlyphs">=</text>
<text x="2351.11" y="2827.80" font-family='"Liberation Serif", serif' font-size="56" font-weight="bold" font-style="normal" fill="#ff0000" textLength="98.23" lengthAdjust="spacingAndGlyphs">1.07</text>
<text x="1196.26" y="2942.50" font-family='"Liberation Serif", serif' font-size="62" font-weight="bold" font-style="normal" fill="#000" textLength="111.31" lengthAdjust="spacingAndGlyphs">IDR</text>
<text x="1310.90" y="2957.70" font-family='"Liberation Serif", serif' font-size="46" font-weight="bold" font-style="normal" fill="#000" textLength="76.31" lengthAdjust="spacingAndGlyphs">max</text>
<text x="1404.41" y="2944.00" font-family='"Liberation Serif", serif' font-size="62" font-weight="bold" font-style="normal" fill="#000" textLength="21.90" lengthAdjust="spacingAndGlyphs">(</text>
<text x="1440.47" y="2944.00" font-family='"Liberation Serif", serif' font-size="62" font-weight="bold" font-style="normal" fill="#000" textLength="67.33" lengthAdjust="spacingAndGlyphs">%</text>
<text x="1522.06" y="2944.00" font-family='"Liberation Serif", serif' font-size="65" font-weight="bold" font-style="normal" fill="#000" textLength="31.12" lengthAdjust="spacingAndGlyphs">h</text>
<text x="1557.48" y="2958.00" font-family='"Liberation Serif", serif' font-size="44" font-weight="bold" font-style="normal" fill="#000" textLength="28.97" lengthAdjust="spacingAndGlyphs">st</text>
<text x="1600.97" y="2944.00" font-family='"Liberation Serif", serif' font-size="62" font-weight="bold" font-style="normal" fill="#000" textLength="24.21" lengthAdjust="spacingAndGlyphs">)</text>
<text x="1647.44" y="1799.10" font-family='"Liberation Serif", serif' font-size="59" font-weight="bold" font-style="normal" fill="#000" textLength="30.00" lengthAdjust="spacingAndGlyphs">d</text>
<text x="1678.10" y="1813.00" font-family='"Liberation Serif", serif' font-size="46" font-weight="bold" font-style="normal" fill="#000" textLength="49.64" lengthAdjust="spacingAndGlyphs">g,t</text>
<text x="1726.66" y="1799.10" font-family='"Liberation Serif", serif' font-size="60" font-weight="normal" font-style="normal" fill="#000" textLength="35.67" lengthAdjust="spacingAndGlyphs">=</text>
<text x="1786.13" y="1799.10" font-family='"Liberation Serif", serif' font-size="60" font-weight="normal" font-style="normal" fill="#000" textLength="97.26" lengthAdjust="spacingAndGlyphs">3.00</text>
<text x="1896.39" y="1799.10" font-family='"Liberation Serif", serif' font-size="60" font-weight="normal" font-style="normal" fill="#000" textLength="68.07" lengthAdjust="spacingAndGlyphs">cm</text>
<text x="1977.95" y="1799.10" font-family='"Liberation Serif", serif' font-size="60" font-weight="normal" font-style="normal" fill="#000" textLength="53.99" lengthAdjust="spacingAndGlyphs">(=</text>
<text x="2043.70" y="1799.10" font-family='"Liberation Serif", serif' font-size="60" font-weight="bold" font-style="normal" fill="#000" textLength="31.75" lengthAdjust="spacingAndGlyphs">δ</text>
<text x="2073.12" y="1813.00" font-family='"Liberation Serif", serif' font-size="46" font-weight="bold" font-style="normal" fill="#000" textLength="82.61" lengthAdjust="spacingAndGlyphs">max</text>
<text x="2157.88" y="1799.10" font-family='"Liberation Serif", serif' font-size="60" font-weight="normal" font-style="normal" fill="#000" textLength="18.96" lengthAdjust="spacingAndGlyphs">)</text>
<text x="1672.91" y="1915.00" font-family='"Liberation Serif", serif' font-size="59" font-weight="bold" font-style="normal" fill="#000" textLength="27.70" lengthAdjust="spacingAndGlyphs">d</text>
<text x="1703.43" y="1929.70" font-family='"Liberation Serif", serif' font-size="46" font-weight="bold" font-style="normal" fill="#000" textLength="100.27" lengthAdjust="spacingAndGlyphs">g,crit</text>
<text x="1815.94" y="1915.00" font-family='"Liberation Serif", serif' font-size="60" font-weight="normal" font-style="normal" fill="#000" textLength="37.11" lengthAdjust="spacingAndGlyphs">=</text>
<text x="1863.48" y="1915.00" font-family='"Liberation Serif", serif' font-size="60" font-weight="normal" font-style="normal" fill="#000" textLength="98.15" lengthAdjust="spacingAndGlyphs">4.99</text>
<text x="1974.39" y="1915.00" font-family='"Liberation Serif", serif' font-size="60" font-weight="normal" font-style="normal" fill="#000" textLength="68.07" lengthAdjust="spacingAndGlyphs">cm</text>
<text x="1677.00" y="2046.50" font-family='"Liberation Serif", serif' font-size="60" font-weight="normal" font-style="normal" fill="#000" textLength="393.86" lengthAdjust="spacingAndGlyphs">without pounding</text>
<text x="797.68" y="3084.50" font-family='"Liberation Serif", serif' font-size="85" font-weight="normal" font-style="normal" fill="#000" textLength="24.06" lengthAdjust="spacingAndGlyphs" stroke="#000" stroke-width="0.9">(</text>
<text x="829.32" y="3084.50" font-family='"Liberation Serif", serif' font-size="85" font-weight="bold" font-style="normal" fill="#000" textLength="49.99" lengthAdjust="spacingAndGlyphs" stroke="#000" stroke-width="0.9">b</text>
<text x="877.05" y="3084.50" font-family='"Liberation Serif", serif' font-size="85" font-weight="normal" font-style="normal" fill="#000" textLength="24.06" lengthAdjust="spacingAndGlyphs" stroke="#000" stroke-width="0.9">)</text>
<text x="931.16" y="3084.50" font-family='"Liberation Serif", serif' font-size="85" font-weight="normal" font-style="normal" fill="#000" textLength="396.62" lengthAdjust="spacingAndGlyphs" stroke="#000" stroke-width="0.9">DHCs-IDR</text>
<text x="1330.30" y="3084.50" font-family='"Liberation Serif", serif' font-size="49" font-weight="normal" font-style="normal" fill="#000" textLength="94.96" lengthAdjust="spacingAndGlyphs" stroke="#000" stroke-width="0.9">max</text>
<text x="1446.76" y="3084.50" font-family='"Liberation Serif", serif' font-size="85" font-weight="normal" font-style="normal" fill="#000" textLength="66.37" lengthAdjust="spacingAndGlyphs" stroke="#000" stroke-width="0.9">at</text>
<text x="1537.09" y="3084.50" font-family='"Liberation Serif", serif' font-size="85" font-weight="normal" font-style="normal" fill="#000" textLength="44.58" lengthAdjust="spacingAndGlyphs" stroke="#000" stroke-width="0.9">d</text>
<text x="1588.43" y="3084.50" font-family='"Liberation Serif", serif' font-size="49" font-weight="normal" font-style="normal" fill="#000" textLength="55.67" lengthAdjust="spacingAndGlyphs" stroke="#000" stroke-width="0.9">g,t</text>
<text x="1661.94" y="3084.50" font-family='"Liberation Serif", serif' font-size="85" font-weight="normal" font-style="normal" fill="#000" textLength="48.92" lengthAdjust="spacingAndGlyphs" stroke="#000" stroke-width="0.9">=</text>
<text x="1724.43" y="3084.50" font-family='"Liberation Serif", serif' font-size="85" font-weight="normal" font-style="normal" fill="#000" textLength="148.56" lengthAdjust="spacingAndGlyphs" stroke="#000" stroke-width="0.9">3.00</text>
<text x="1894.07" y="3084.50" font-family='"Liberation Serif", serif' font-size="85" font-weight="normal" font-style="normal" fill="#000" textLength="109.76" lengthAdjust="spacingAndGlyphs" stroke="#000" stroke-width="0.9">cm</text>
</g>
</svg></body></html>
